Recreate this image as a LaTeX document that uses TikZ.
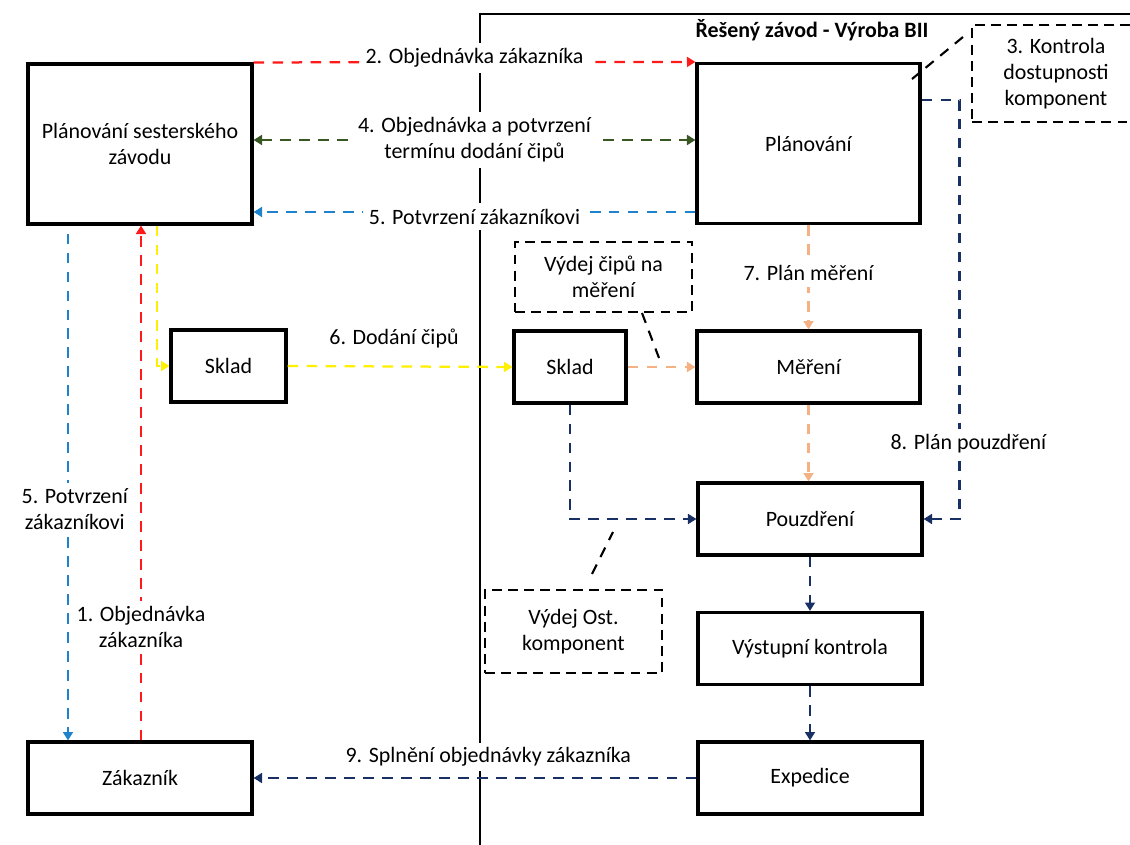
\documentclass[tikz,border=0pt]{standalone}
\usepackage{fontspec}
\setmainfont{Carlito}
\usetikzlibrary{arrows.meta,positioning}
\definecolor{flowred}{RGB}{255,25,25}
\definecolor{flowgreen}{RGB}{56,87,35}
\definecolor{flowblue}{RGB}{30,130,205}
\definecolor{flowyellow}{RGB}{255,240,0}
\definecolor{floworange}{RGB}{244,177,131}
\definecolor{flownavy}{RGB}{25,48,100}
\begin{document}
\begin{tikzpicture}[x=0.025cm, y=-0.025cm, >={Triangle[length=6pt,width=7pt]}, every node/.style={font=\fontsize{15.6}{18.3}\selectfont, text=black}]
\tikzstyle{box}=[draw, line width=2.2pt, minimum width=5.6cm, minimum height=1.8cm, align=center]
\tikzstyle{bigbox}=[box, minimum height=4cm]
\tikzstyle{note}=[draw, line width=1.5pt, dash pattern=on 7pt off 4.5pt, minimum width=4.425cm, align=center]
\tikzstyle{flow}=[line width=1.6pt, dash pattern=on 7.5pt off 6pt]
\tikzstyle{lbl}=[fill=white, inner sep=4pt, align=center]
\clip (0,0) rectangle (1130,845);
\draw[line width=1.4pt] (480,845) -- (480,14) -- (1130,14);
\node[font=\bfseries\fontsize{15.6}{18.3}\selectfont] (title) at (812,30) {Řešený závod - Výroba BII};
\node[bigbox] (psz) at (140,144) {Plánování sesterského\\závodu};
\node[bigbox, minimum width=5.575cm] (plan) at (808.5,143.5) {Plánování};
\node[box, minimum width=2.875cm] (skladl) at (228.5,366) {Sklad};
\node[box, minimum width=2.8cm] (skladr) at (570,367) {Sklad};
\node[box, minimum width=5.575cm] (mereni) at (808.5,367) {Měření};
\node[box] (pouz) at (810,519) {Pouzdření};
\node[box] (vystup) at (810,648.5) {Výstupní kontrola};
\node[box] (exped) at (810,778) {Expedice};
\node[box] (zak) at (140,778) {Zákazník};
\node[note, minimum height=1.75cm] (vydejcip) at (603.5,277) {Výdej čipů na\\měření};
\node[note, minimum height=2.075cm] (vydejost) at (573.5,631.5) {Výdej Ost.\\komponent};
\node[note, minimum width=4.2cm, minimum height=2.425cm] (kontrola) at (1056,73.5) {3. Kontrola\\dostupnosti\\komponent};
\draw[flow, flowred, ->] (psz.north east) -- node[lbl, yshift=0.1cm] {2. Objednávka zákazníka} (plan.north west);
\draw[flow, flowgreen, <->] (psz.east |- 0,140) -- node[lbl] {4. Objednávka a potvrzení\\termínu dodání čipů} (plan.west |- 0,140);
\draw[flow, flowblue, ->] (plan.west |- 0,212) -- node[lbl, yshift=-0.12cm] {5. Potvrzení zákazníkovi} (psz.east |- 0,212);
\draw[flow, flowblue, ->, shorten <=0.2cm] (psz.south -| 68,0) -- node[lbl, pos=0.55, xshift=0.17cm] {5. Potvrzení\\zákazníkovi} (zak.north -| 68,0);
\draw[flow, flowred, ->] (zak.north -| 141,0) -- node[lbl, pos=0.22] {1. Objednávka\\zákazníka} (psz.south -| 141,0);
\draw[flow, flowyellow, ->] (psz.south -| 157,0) |- (skladl.west);
\draw[flow, flowyellow, ->] (skladl.east) -- node[above=9pt, xshift=-0.15cm] {6. Dodání čipů} (skladr.west);
\draw[flow, floworange, ->] (skladr.east) -- (mereni.west);
\draw[flow, floworange, ->] (plan.south) -- node[lbl, yshift=0.1cm] {7. Plán měření} (mereni.north);
\draw[flow, floworange, ->] (mereni.south) -- (mereni.south |- pouz.north);
\draw[flow, flownavy, ->] (plan.east |- 0,100) -- ++(38,0) |- node[lbl, pos=0.41, xshift=0.22cm] {8. Plán pouzdření} (pouz.east);
\draw[flow, flownavy, ->] (skladr.south) |- (pouz.west);
\draw[flow, flownavy, ->] (pouz.south) -- (vystup.north);
\draw[flow, flownavy, ->] (vystup.south) -- (exped.north);
\draw[flow, flownavy, ->] (exped.west) -- node[above=4pt, pos=0.47, fill=white] {9. Splnění objednávky zákazníka} (zak.east);
\coordinate (c1a) at (642,313);
\coordinate (c1b) at (659,358);
\coordinate (c2a) at (592,574);
\coordinate (c2b) at (613,532);
\coordinate (c3a) at (963,37);
\coordinate (c3b) at (912,79);
\draw[flow, line width=1.5pt] (c1a) -- (c1b);
\draw[flow, line width=1.5pt] (c2a) -- (c2b);
\draw[flow, line width=1.5pt] (c3a) -- (c3b);
\end{tikzpicture}
\end{document}
